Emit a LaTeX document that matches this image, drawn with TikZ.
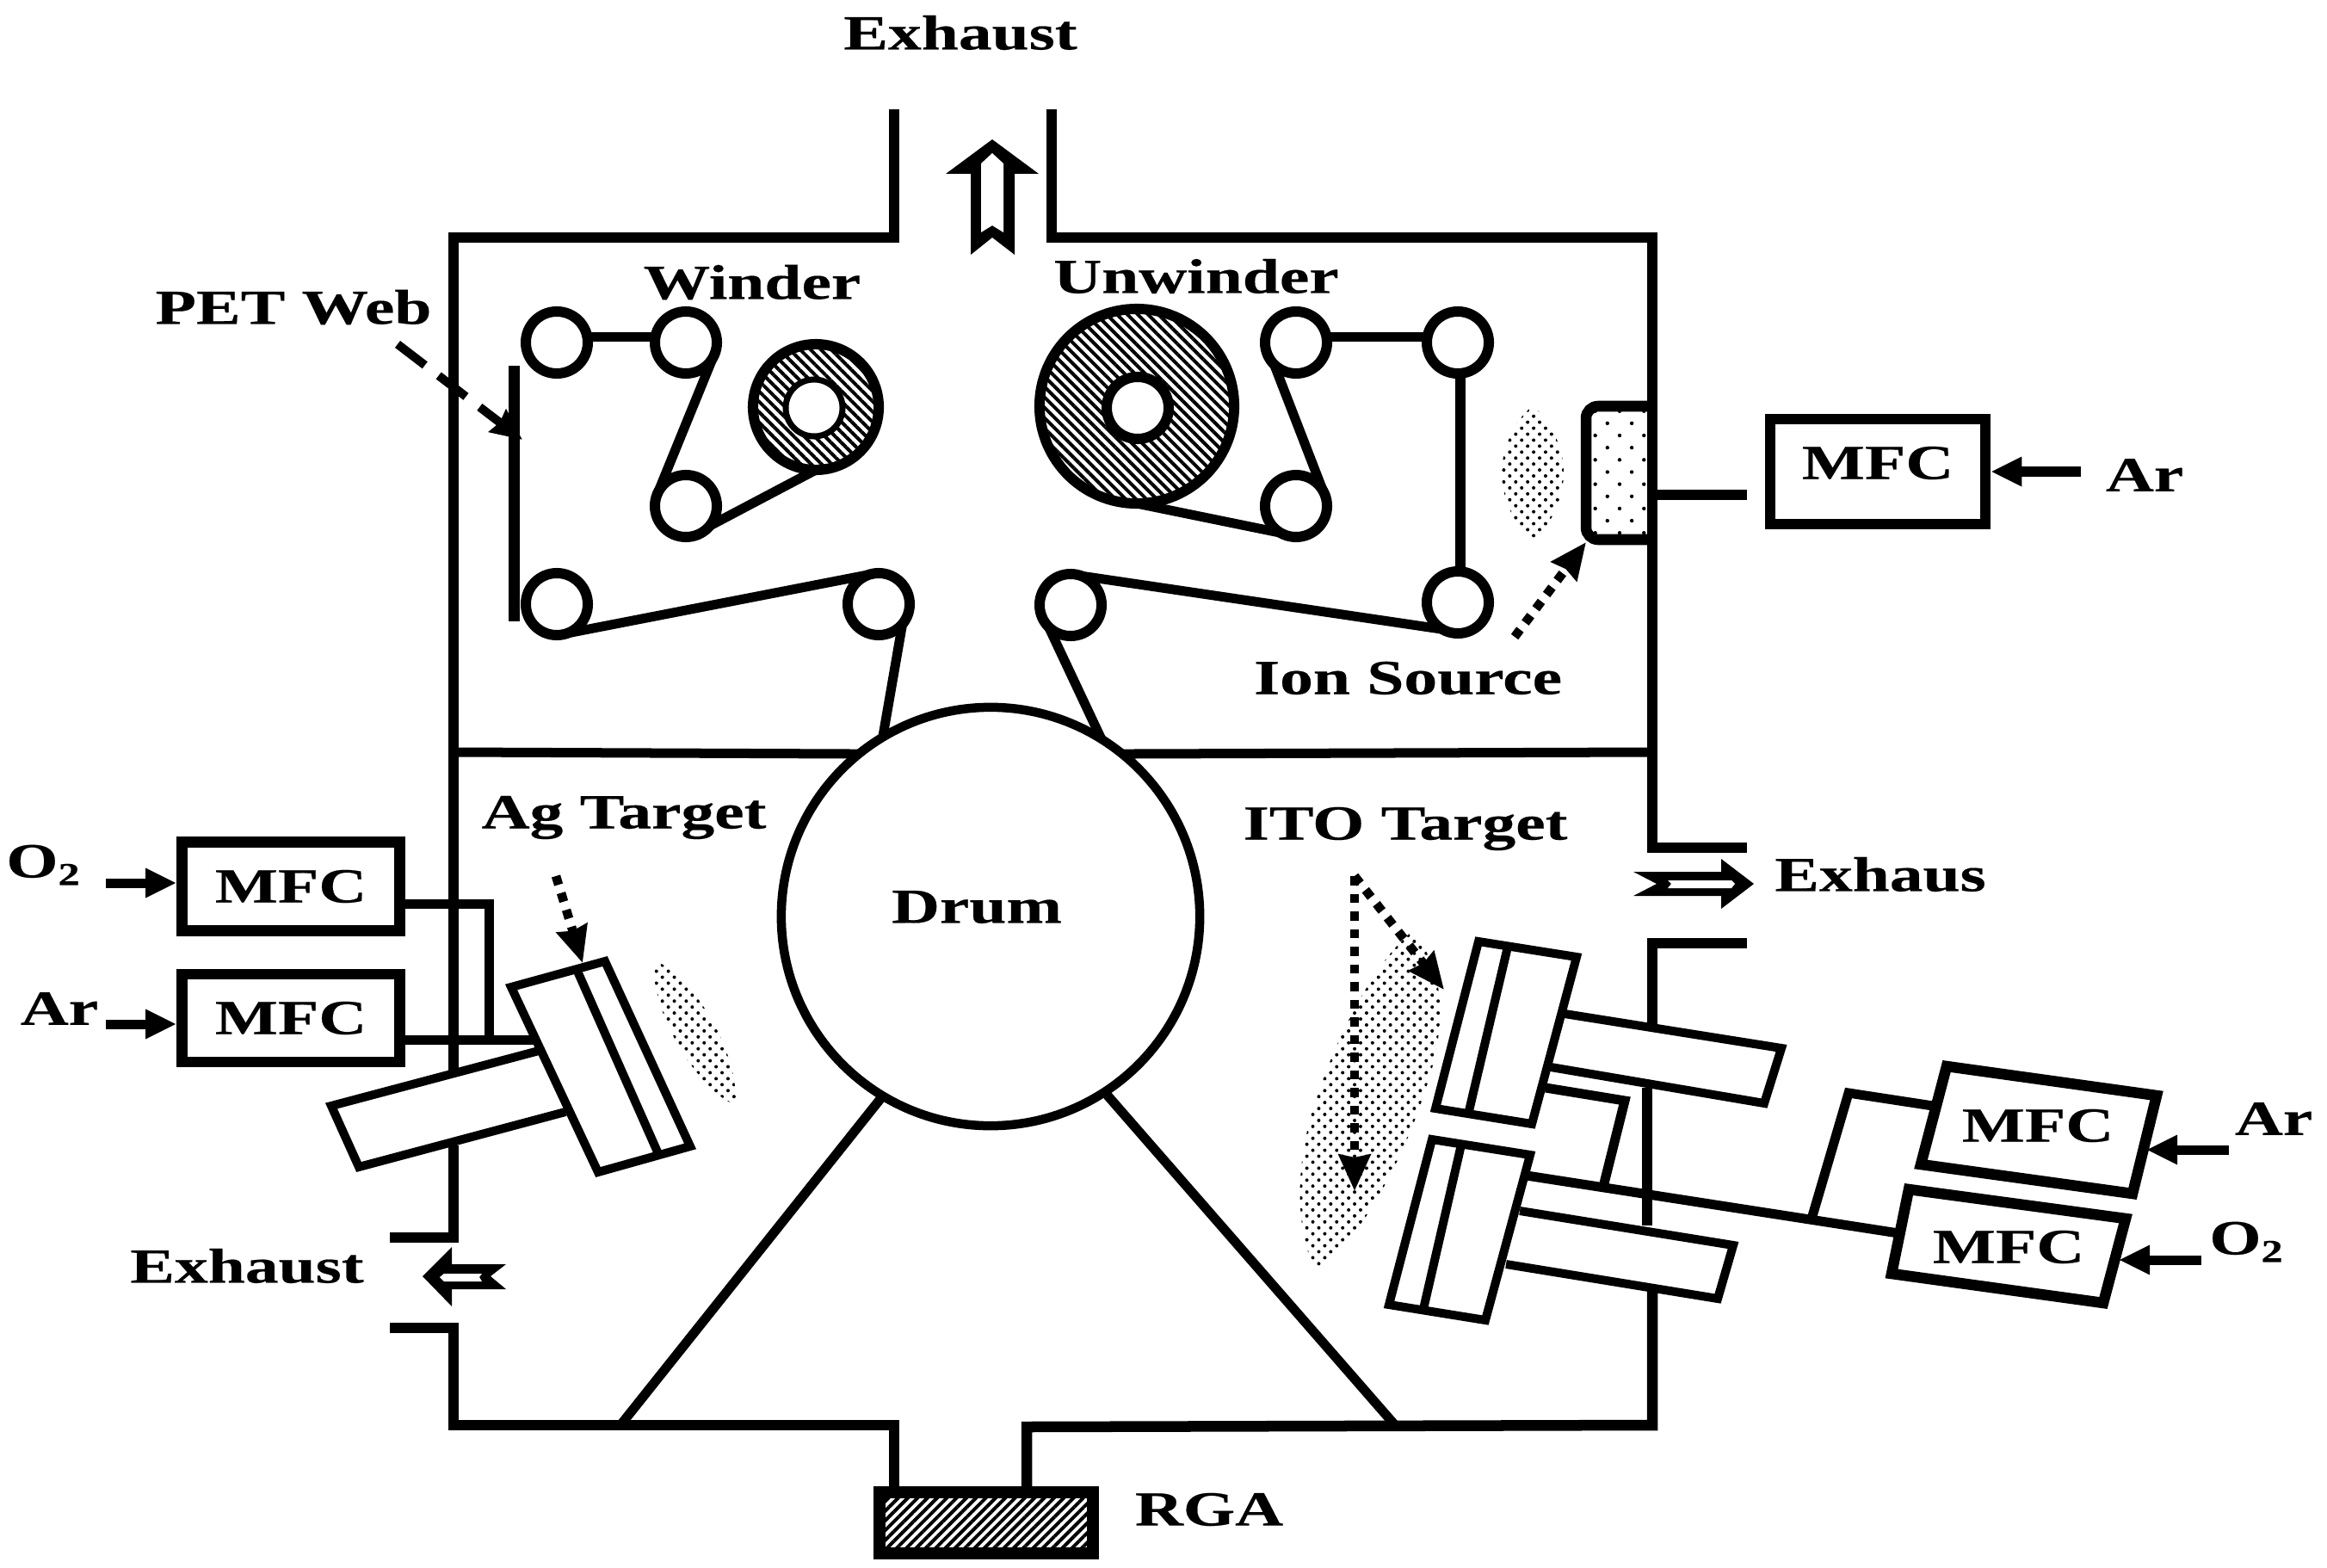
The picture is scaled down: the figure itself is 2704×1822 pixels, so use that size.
\documentclass[tikz,border=0pt]{standalone}
\usepackage{fontspec}
\setmainfont{Liberation Serif}[FakeStretch=1.36,BoldFeatures={FakeBold=0.35}]
\usetikzlibrary{arrows.meta,patterns.meta,calc}
\newcommand{\subtwo}{\raisebox{-2.5pt}{\fontsize{10.5}{11}\selectfont 2}}
\tikzset{
  wall/.style={line width=0.125cm,line cap=butt,line join=miter},
  thin wall/.style={line width=0.11cm,line join=miter},
  lab/.style={font=\fontsize{16.2}{18}\selectfont\bfseries,inner sep=0pt},
  roller/.style={circle,draw,line width=0.12cm,minimum size=0.72cm,inner sep=0pt,outer sep=0pt,fill=white},
  hatchspool/.style={circle,draw,line width=0.12cm,inner sep=0pt,outer sep=0pt,pattern={Lines[angle=-45,distance=0.085cm,line width=0.04cm]},pattern color=black},
  hub/.style={circle,draw,inner sep=0pt,outer sep=0pt,fill=white},
  mfcbox/.style={rectangle,draw,line width=0.125cm,inner sep=0pt,outer sep=0.0625cm,fill=white,font=\fontsize{16.2}{18}\selectfont\bfseries},
  block/.style={draw,line width=0.1cm,fill=white,line join=miter},
  feed/.style={line width=0.11cm,-{Stealth[length=0.36cm,width=0.32cm,inset=0pt]}},
  dotarrow/.style={line width=0.105cm,dash pattern=on 0.105cm off 0.1cm,-{Stealth[length=0.42cm,width=0.36cm,inset=0.03cm]}},
  plume/.style={pattern={Dots[distance=0.098cm,angle=45,radius=0.02cm]},pattern color=black},
}
\begin{document}
\begin{tikzpicture}[x=0.01cm,y=-0.01cm]
\useasboundingbox (0,0) rectangle (2704,1822);
% chamber walls
\draw[wall] (1039,127) -- (1039,276) -- (527,276) -- (527,1244);
\draw[wall] (1222,127) -- (1222,276) -- (1920,276) -- (1920,985) -- (2030,985);
\draw[wall] (2030,1096) -- (1920,1096) -- (1920,1208);
\draw[wall] (1914,1264) -- (1914,1424);
\draw[wall] (1920,1500) -- (1920,1656) -- (1193,1658) -- (1193,1727);
\draw[wall] (527,1331) -- (527,1438) -- (453,1438);
\draw[wall] (453,1543) -- (527,1543) -- (527,1656) -- (1039,1656) -- (1039,1727);
% drum and dividers
\node[circle,draw,line width=0.105cm,minimum size=4.86cm,inner sep=0pt,outer sep=0pt] (drum) at (1151,1065) {};
\coordinate (divL) at (527,874);
\coordinate (divR) at (1920,874);
\coordinate (triL) at (721,1656);
\coordinate (triR) at (1621,1656);
\draw[thin wall] (divL) -- (drum.129);
\draw[thin wall] (divR) -- (drum.51);
\draw[thin wall] (triL) -- (drum.-121);
\draw[thin wall] (triR) -- (drum.-57);
% rollers
\node[roller] (r1) at (647,398) {};
\node[roller] (r2) at (797,398) {};
\node[roller] (r3) at (797,588) {};
\node[roller] (r4) at (647,702) {};
\node[roller] (r5) at (1021,702) {};
\node[roller] (r6) at (1506,398) {};
\node[roller] (r7) at (1694,398) {};
\node[roller] (r8) at (1506,588) {};
\node[roller] (r9) at (1694,700) {};
\node[roller] (r10) at (1244,703) {};
% spools
\node[hatchspool,minimum size=1.46cm] (wind) at (948,473) {};
\node[hub,line width=0.07cm,minimum size=0.66cm] (windhub) at (946,474) {};
\node[hatchspool,minimum size=2.26cm] (unw) at (1321,472) {};
\node[hub,line width=0.12cm,minimum size=0.72cm] (unwhub) at (1322,474) {};
% web path
\coordinate (webT) at (597,425);
\coordinate (webB) at (597,722);
\draw[line width=0.13cm] (webT) -- (webB);
\draw[thin wall] (r1.10) -- (r2.170);
\draw[thin wall] (r2.-15) -- (r3.160);
\draw[thin wall] (r3.-40) -- (wind.-90);
\draw[thin wall] (r4.-70) -- (r5.95);
\draw[thin wall] (r5.-40) -- (drum.121);
\draw[thin wall] (r6.10) -- (r7.170);
\draw[thin wall] (r6.-135) -- (r8.30);
\draw[thin wall] (r8.-120) -- (unw.-90);
\draw[wall] (r7.-85) -- (r9.85);
\draw[thin wall] (r9.-120) -- (r10.70);
\draw[thin wall] (r10.-135) -- (drum.58);
% PET web arrow
\coordinate (petA) at (462,400);
\coordinate (petB) at (607,511);
\draw[line width=0.1cm,dash pattern=on 0.4cm off 0.2cm,-{Stealth[length=0.36cm,width=0.32cm,inset=0.03cm]}] (petA) -- (petB);
% ion source
\path[plume] (1781,472) .. controls (1805,490) and (1817,525) .. (1817,549) .. controls (1817,575) and (1805,610) .. (1781,626) .. controls (1757,610) and (1745,575) .. (1745,549) .. controls (1745,525) and (1757,490) .. (1781,472) -- cycle;
\draw[wall,rounded corners=0.14cm,pattern={Dots[distance=0.2cm,angle=45,radius=0.022cm]},pattern color=black] (1920,472) -- (1843,472) -- (1843,627) -- (1920,627);
\coordinate (ionA) at (1760,740);
\coordinate (ionB) at (1843,630);
\draw[dotarrow] (ionA) -- (ionB);
\node[mfcbox,minimum width=2.5cm,minimum height=1.22cm] (mfcT) at (2182,548) {};
\node[lab] (mfcTt) at (2182,538) {MFC};
\coordinate (srcT) at (1920,575);
\draw[wall] (srcT) -- (2030,575);
\coordinate (arT) at (2418,548);
\draw[feed] (arT) -- (mfcT.east);
% left MFCs
\node[mfcbox,minimum width=2.53cm,minimum height=1.03cm] (mfcO) at (338,1030) {MFC};
\node[mfcbox,minimum width=2.53cm,minimum height=1.02cm] (mfcA) at (338,1183) {MFC};
\coordinate (oin) at (123,1026);
\coordinate (ain) at (123,1190);
\draw[feed] (oin) -- (oin -| mfcO.west);
\draw[feed] (ain) -- (ain -| mfcA.west);
\coordinate (g1) at (568,1050);
\coordinate (g2) at (568,1208);
\coordinate (g3) at (623,1208);
\draw[thin wall] (g1 -| mfcO.east) -- (g1) -- (g2);
\draw[thin wall] (g3 -| mfcA.east) -- (g3);
% Ag target
\path[plume] (760,1116) .. controls (800,1130) and (858,1215) .. (855,1284) .. controls (815,1270) and (755,1180) .. (760,1116) -- cycle;
\path[fill=white] (626,1221) -- (382,1282) -- (416,1358) -- (657,1292) -- cycle;
\draw[block] (626,1221) -- (385,1285) -- (417,1356) -- (657,1292);
\draw[block] (594,1147) -- (703,1117) -- (802,1332) -- (695,1362) -- cycle;
\draw[line width=0.1cm] (669,1124) -- (766,1343);
\coordinate (agA) at (646,1018);
\coordinate (agB) at (677,1119);
\draw[dotarrow] (agA) -- (agB);
% ITO target
\path[plume] (1640,1083) .. controls (1678,1120) and (1684,1190) .. (1655,1270) .. controls (1630,1350) and (1580,1440) .. (1530,1480) .. controls (1505,1430) and (1505,1360) .. (1525,1290) .. controls (1550,1210) and (1595,1120) .. (1640,1083) -- cycle;
\draw[block] (1818,1178) -- (2070,1218) -- (2050,1282) -- (1802,1240);
\draw[block] (1766,1407) -- (2014,1447) -- (1996,1509) -- (1750,1469);
\draw[block] (1718,1094) -- (1832,1112) -- (1780,1306) -- (1668,1288) -- cycle;
\draw[line width=0.1cm] (1752,1100) -- (1706,1295);
\draw[block] (1664,1324) -- (1778,1342) -- (1726,1534) -- (1614,1516) -- cycle;
\draw[line width=0.1cm] (1698,1330) -- (1654,1521);
\coordinate (itoS) at (1574,1018);
\coordinate (itoA) at (1574,1384);
\coordinate (itoB) at (1678,1150);
\draw[dotarrow] (itoS) -- (itoA);
\draw[dotarrow] (itoS) -- (itoB);
% right MFCs
\draw[line width=0.125cm,line join=miter] (2262,1239) -- (2506,1273) -- (2478,1387) -- (2232,1353) -- cycle;
\draw[line width=0.125cm,line join=miter] (2218,1382) -- (2470,1416) -- (2444,1514) -- (2198,1480) -- cycle;
\node[lab] (mfcRA) at (2368,1308) {MFC};
\node[lab] (mfcRO) at (2334,1449) {MFC};
\coordinate (rg1) at (1774,1366);
\coordinate (rg2) at (2206,1433);
\coordinate (rg3) at (2106,1413);
\coordinate (rg4) at (2148,1270);
\coordinate (rg5) at (2246,1285);
\coordinate (rg6) at (1796,1264);
\coordinate (rg7) at (1888,1279);
\coordinate (rg8) at (1864,1375);
\draw[thin wall] (rg1) -- (rg2);
\draw[thin wall] (rg3) -- (rg4) -- (rg5);
\draw[thin wall] (rg6) -- (rg7) -- (rg8);
\coordinate (rAin) at (2590,1336);
\coordinate (rAtip) at (2494,1336);
\coordinate (rOin) at (2558,1464);
\coordinate (rOtip) at (2462,1464);
\draw[feed] (rAin) -- (rAtip);
\draw[feed] (rOin) -- (rOtip);
% RGA
\node[rectangle,draw,line width=0.14cm,minimum width=2.48cm,minimum height=0.71cm,inner sep=0pt,pattern={Lines[angle=45,distance=0.08cm,line width=0.04cm]},pattern color=black] (rga) at (1146,1769.5) {};
% exhaust arrows
\fill (1153,162) -- (1207,202) -- (1179,202) -- (1179,296) -- (1153,276) -- (1128,296) -- (1128,202) -- (1099,202) -- cycle;
\fill[white] (1153,178) -- (1166,190) -- (1166,270) -- (1153,262) -- (1140,270) -- (1140,190) -- cycle;
\fill (2038,1027) -- (2000,998) -- (2000,1013) -- (1898,1013) -- (1925,1027) -- (1898,1041) -- (2000,1041) -- (2000,1056) -- cycle;
\fill[white] (1938,1023) -- (2012,1023) -- (2016,1027) -- (2012,1032) -- (1938,1032) -- (1942,1027) -- cycle;
\fill (491,1483) -- (525,1449) -- (525,1469) -- (588,1469) -- (570,1483) -- (588,1498) -- (525,1498) -- (525,1518) -- cycle;
\fill[white] (511,1484) -- (516,1480) -- (560,1480) -- (557,1484) -- (560,1489) -- (516,1489) -- cycle;
% labels
\node[lab] (tExT) at (1116,38) {Exhaust};
\node[lab] (tPet) at (341,357) {PET Web};
\node[lab] (tWin) at (874,328) {Winder};
\node[lab] (tUnw) at (1390,321) {Unwinder};
\node[lab] (tIon) at (1636,788) {Ion Source};
\node[lab] (tAg) at (725,950) {Ag Target};
\node[lab] (tIto) at (1633,963) {ITO Target};
\node[lab] (tDrum) at (1135,1054) {Drum};
\node[lab] (tExR) at (2185,1016) {Exhaus};
\node[lab] (tExL) at (287,1471) {Exhaust};
\node[lab] (tRga) at (1405,1754) {RGA};
\node[lab] (tO1) at (50,1005) {O\subtwo};
\node[lab] (tA1) at (69,1172) {Ar};
\node[lab] (tA2) at (2492,552) {Ar};
\node[lab] (tA3) at (2642,1300) {Ar};
\node[lab] (tO2) at (2610,1443) {O\subtwo};
\end{tikzpicture}
\end{document}
